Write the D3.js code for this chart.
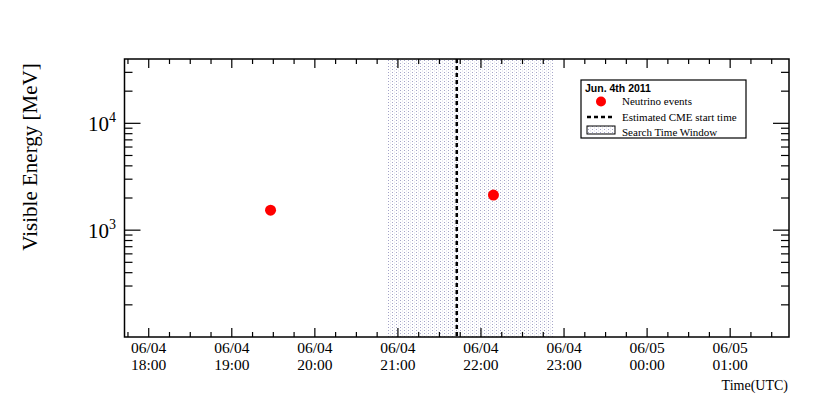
<!DOCTYPE html>
<html><head><meta charset="utf-8">
<script src="https://cdn.jsdelivr.net/npm/d3@7"></script>
<style>body{margin:0;background:#fff}svg{display:block}</style>
</head><body>
<svg id="c" width="830" height="397"></svg>
<script>
// ---- data ----
const xDomain = ["2011-06-04T17:42:30Z", "2011-06-05T01:42:30Z"];
const yDomain = [100, 40000];
const eventTimes = ["2011-06-04T19:28:00Z", "2011-06-04T22:09:00Z"];
const eventEnergies = [1540, 2130];
const cmeStart = "2011-06-04T21:42:30Z";
const searchWindow = ["2011-06-04T20:52:00Z", "2011-06-04T22:52:00Z"];
const legendTitle = "Jun. 4th 2011";
const legendLabels = ["Neutrino events", "Estimated CME start time", "Search Time Window"];
const yTickValues = [1000, 10000];
const xTitle = "Time(UTC)";
const yTitle = "Visible Energy [MeV]";

const P = d => new Date(d);
const svg = d3.select("#c");
const L = 124.5, R = 789, T = 59, B = 337;
const x = d3.scaleUtc().domain(xDomain.map(P)).range([L, R]);
const y = d3.scaleLog().domain(yDomain).range([B, T]);

// pattern
const defs = svg.append("defs");
const pat = defs.append("pattern").attr("id", "dots").attr("patternUnits", "userSpaceOnUse")
  .attr("width", 4).attr("height", 3);
pat.append("rect").attr("width", 4).attr("height", 3).attr("fill", "#fff");
pat.append("rect").attr("x", 0).attr("y", 0).attr("width", 1).attr("height", 1).attr("fill", "#a4a4c8");
pat.append("rect").attr("x", 2).attr("y", 1.5).attr("width", 1).attr("height", 1).attr("fill", "#d6d6e6");

// search window
svg.append("rect")
  .attr("x", x(P(searchWindow[0]))).attr("y", T)
  .attr("width", x(P(searchWindow[1])) - x(P(searchWindow[0]))).attr("height", B - T)
  .attr("fill", "url(#dots)");

// CME line
svg.append("line")
  .attr("x1", x(P(cmeStart))).attr("x2", x(P(cmeStart)))
  .attr("y1", T).attr("y2", B)
  .attr("stroke", "#000").attr("stroke-width", 2.5).attr("stroke-dasharray", "4,3");

// axes ticks
const gAx = svg.append("g").attr("stroke", "#000").attr("stroke-width", 1.2);
const majorX = d3.utcHour.every(1).range(...x.domain());
const minorX = d3.utcMinute.every(15).range(...x.domain()).filter(d => d.getUTCMinutes() !== 0);
majorX.forEach(d => {
  const xx = x(d);
  gAx.append("line").attr("x1", xx).attr("x2", xx).attr("y1", B).attr("y2", B - 9);
  gAx.append("line").attr("x1", xx).attr("x2", xx).attr("y1", T).attr("y2", T + 9);
});
minorX.forEach(d => {
  const xx = x(d);
  gAx.append("line").attr("x1", xx).attr("x2", xx).attr("y1", B).attr("y2", B - 5);
  gAx.append("line").attr("x1", xx).attr("x2", xx).attr("y1", T).attr("y2", T + 5);
});
const yTicksAll = [];
[100, 1000, 10000].forEach(dec => { for (let k = 1; k <= 9; k++) { const v = dec * k; if (v >= yDomain[0] && v <= yDomain[1]) yTicksAll.push(v); } });
yTicksAll.forEach(v => {
  const yy = y(v);
  if (yy < T + 1 || yy > B - 1) return;
  const len = yTickValues.includes(v) ? 16 : 8;
  gAx.append("line").attr("x1", L).attr("x2", L + len).attr("y1", yy).attr("y2", yy);
  gAx.append("line").attr("x1", R).attr("x2", R - len).attr("y1", yy).attr("y2", yy);
});

// frame
svg.append("rect").attr("x", L).attr("y", T).attr("width", R - L).attr("height", B - T)
  .attr("fill", "none").attr("stroke", "#000").attr("stroke-width", 1.5);

// x tick labels
const fmtD = d3.utcFormat("%m/%d"), fmtH = d3.utcFormat("%H:%M");
const gxl = svg.append("g").attr("font-family", "'Liberation Serif', 'Times New Roman', serif")
  .attr("font-size", 15.5).attr("text-anchor", "middle").attr("fill", "#000");
majorX.forEach(d => {
  gxl.append("text").attr("x", x(d)).attr("y", 352.5).text(fmtD(d));
  gxl.append("text").attr("x", x(d)).attr("y", 369.5).text(fmtH(d));
});

// y tick labels
const gyl = svg.append("g").attr("font-family", "'Liberation Serif', 'Times New Roman', serif").attr("fill", "#000");
yTickValues.forEach(v => {
  const t = gyl.append("text").attr("x", 116).attr("y", y(v) + 8).attr("text-anchor", "end").attr("font-size", 21);
  t.append("tspan").text("10");
  t.append("tspan").attr("dy", -9).attr("font-size", 14).text(Math.round(Math.log10(v)));
});

// titles
svg.append("text").attr("transform", "translate(37,157) rotate(-90)")
  .attr("text-anchor", "middle").attr("font-family", "'Liberation Serif', serif").attr("font-size", 21)
  .text(yTitle);
svg.append("text").attr("x", 788).attr("y", 390).attr("text-anchor", "end")
  .attr("font-family", "'Liberation Serif', serif").attr("font-size", 14).text(xTitle);

// points
svg.append("g").selectAll("circle").data(eventTimes).join("circle")
  .attr("cx", d => x(P(d))).attr("cy", (d, i) => y(eventEnergies[i])).attr("r", 5.5).attr("fill", "#ff0000");

// legend
const lg = svg.append("g");
lg.append("rect").attr("x", 581).attr("y", 80).attr("width", 165).attr("height", 58)
  .attr("fill", "#fff").attr("stroke", "#000").attr("stroke-width", 1.2);
lg.append("text").attr("x", 585).attr("y", 92).attr("font-family", "'Liberation Sans', Arial, sans-serif")
  .attr("font-weight", "bold").attr("font-size", 10.5).text(legendTitle);
const lf = "'Liberation Serif', serif";
lg.append("circle").attr("cx", 601).attr("cy", 101.5).attr("r", 5).attr("fill", "#ff0000");
lg.append("line").attr("x1", 587).attr("x2", 615).attr("y1", 117).attr("y2", 117)
  .attr("stroke", "#000").attr("stroke-width", 2.5).attr("stroke-dasharray", "4,3");
lg.append("rect").attr("x", 587).attr("y", 126).attr("width", 28).attr("height", 8)
  .attr("fill", "url(#dots)").attr("stroke", "#000").attr("stroke-width", 1);
legendLabels.forEach((s, i) => {
  lg.append("text").attr("x", 622).attr("y", 105 + i * 15.5).attr("font-family", lf).attr("font-size", 11).text(s);
});
</script>
</body></html>
